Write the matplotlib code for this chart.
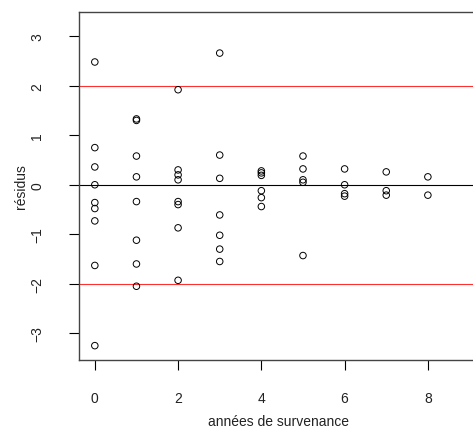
import numpy as np
import matplotlib
matplotlib.use('Agg')
import matplotlib.pyplot as plt

plt.rcParams['font.family'] = ['Liberation Sans', 'DejaVu Sans']

# residuals by year of occurrence
res_0 = [2.48, 0.75, 0.36, 0.0, -0.36, -0.48, -0.73, -1.63, -3.25]
res_1 = [1.33, 1.30, 0.58, 0.16, -0.34, -1.12, -1.60, -2.05]
res_2 = [1.92, 0.30, 0.20, 0.10, -0.34, -0.40, -0.87, -1.93]
res_3 = [2.66, 0.60, 0.13, -0.61, -1.02, -1.30, -1.55]
res_4 = [0.28, 0.24, 0.19, -0.12, -0.26, -0.44]
res_5 = [0.58, 0.32, 0.10, 0.05, -1.43]
res_6 = [0.32, 0.0, -0.18, -0.23]
res_7 = [0.26, -0.12, -0.21]
res_8 = [0.16, -0.21]
residuals = [res_0, res_1, res_2, res_3, res_4, res_5, res_6, res_7, res_8]

annees = np.concatenate([[i] * len(r) for i, r in enumerate(residuals)])
residus = np.concatenate(residuals)

fig = plt.figure(figsize=(4.73, 4.39), dpi=100)
ax = fig.add_axes([79 / 473, 78 / 439, 398 / 473, 348 / 439])

ax.axhline(0, color='black', lw=0.8, zorder=1)
ax.axhline(2, color='#ff3030', lw=0.8, zorder=1)
ax.axhline(-2, color='#ff3030', lw=0.8, zorder=1)
ax.scatter(annees, residus, s=22, facecolors='none', edgecolors='black',
           linewidths=0.7, zorder=2)

ax.set_xlim(-0.38, 9.18)
ax.set_ylim(-3.54, 3.49)
ax.set_xticks([0, 2, 4, 6, 8])
ax.set_yticks([-3, -2, -1, 0, 1, 2, 3])
ax.tick_params(axis='both', length=7, width=0.8, color='black',
               labelsize=10, labelcolor='#222222')
ax.tick_params(axis='x', pad=15)
ax.tick_params(axis='y', pad=18)
for lab in ax.get_yticklabels():
    lab.set_rotation(90)
    lab.set_va('center')

for sp in ax.spines.values():
    sp.set_color('#444444')
    sp.set_linewidth(1)

ax.set_xlabel('années de survenance', fontsize=10, color='#222222', labelpad=7)
ax.set_ylabel('résidus', fontsize=10, color='#222222', labelpad=2)

fig.savefig('out.png', dpi=100)
